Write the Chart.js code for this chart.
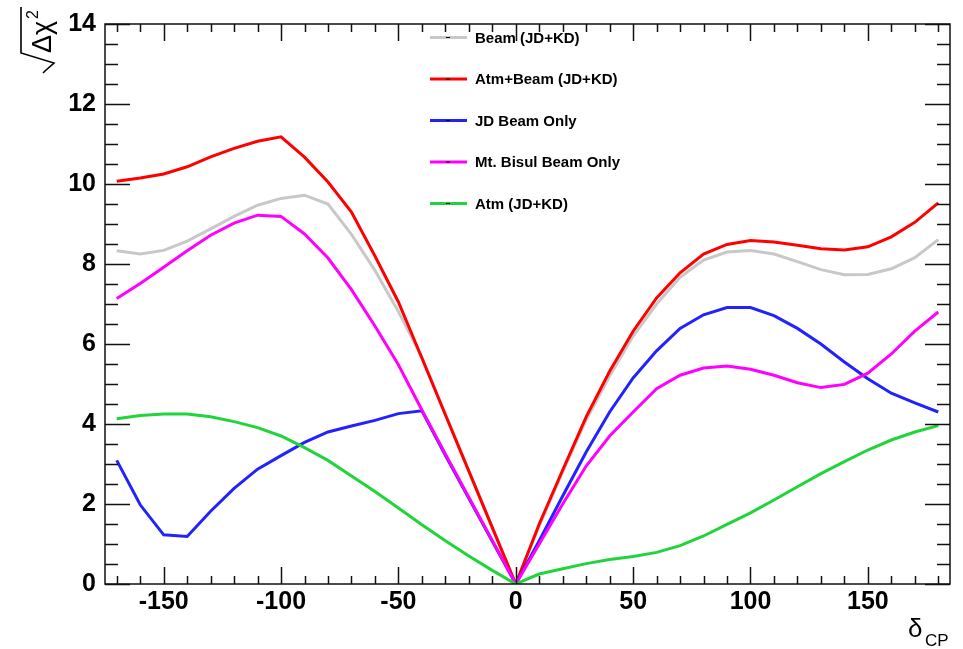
<!DOCTYPE html>
<html>
<head>
<meta charset="utf-8">
<script src="https://cdn.jsdelivr.net/npm/chart.js@4/dist/chart.umd.min.js"></script>
<style>
  html, body { margin: 0; padding: 0; background: #fff; }
  #wrap { width: 963px; height: 649px; }
</style>
</head>
<body>
<div id="wrap"><canvas id="chi"></canvas></div>
<script>
// delta_CP scan, one point every 10 degrees
const deltaCP = [-170, -160, -150, -140, -130, -120, -110, -100, -90, -80, -70, -60, -50, -40, -30, -20, -10, 0,
                 10, 20, 30, 40, 50, 60, 70, 80, 90, 100, 110, 120, 130, 140, 150, 160, 170, 180];

const beamJDKD = [8.33, 8.25, 8.34, 8.57, 8.88, 9.19, 9.47, 9.64, 9.72, 9.50, 8.74, 7.84, 6.81, 5.67, 4.25, 2.83, 1.42, 0,
                  1.45, 2.80, 4.10, 5.20, 6.20, 7.00, 7.67, 8.10, 8.30, 8.34, 8.25, 8.06, 7.86, 7.73, 7.74, 7.88, 8.16, 8.61];
const atmBeamJDKD = [10.07, 10.15, 10.25, 10.43, 10.68, 10.89, 11.07, 11.18, 10.67, 10.05, 9.30, 8.20, 7.05, 5.65, 4.23, 2.82, 1.41, 0,
                     1.50, 2.85, 4.18, 5.32, 6.32, 7.15, 7.78, 8.25, 8.49, 8.59, 8.55, 8.47, 8.38, 8.35, 8.43, 8.68, 9.04, 9.53];
const jdBeamOnly = [3.09, 1.98, 1.23, 1.19, 1.82, 2.39, 2.87, 3.21, 3.54, 3.80, 3.95, 4.09, 4.26, 4.33, 3.22, 2.14, 1.07, 0,
                    1.08, 2.20, 3.30, 4.30, 5.15, 5.83, 6.39, 6.73, 6.91, 6.91, 6.71, 6.39, 6.00, 5.55, 5.13, 4.77, 4.53, 4.30];
const bisulBeamOnly = [7.14, 7.51, 7.92, 8.33, 8.72, 9.02, 9.22, 9.19, 8.75, 8.15, 7.36, 6.45, 5.48, 4.35, 3.25, 2.17, 1.09, 0,
                       1.00, 2.00, 2.95, 3.70, 4.30, 4.88, 5.22, 5.40, 5.45, 5.37, 5.22, 5.03, 4.91, 4.99, 5.27, 5.75, 6.32, 6.80];
const atmJDKD = [4.13, 4.21, 4.25, 4.25, 4.18, 4.06, 3.91, 3.70, 3.41, 3.09, 2.70, 2.31, 1.90, 1.48, 1.08, 0.70, 0.34, 0,
                 0.25, 0.38, 0.51, 0.61, 0.69, 0.79, 0.96, 1.20, 1.49, 1.78, 2.10, 2.43, 2.76, 3.06, 3.35, 3.60, 3.80, 3.96];

const seriesLabels = ['Beam (JD+KD)', 'Atm+Beam (JD+KD)', 'JD Beam Only', 'Mt. Bisul Beam Only', 'Atm (JD+KD)'];
const seriesValues = [beamJDKD, atmBeamJDKD, jdBeamOnly, bisulBeamOnly, atmJDKD];
const seriesColors = ['#c8c8c8', '#ff0000', '#2222ff', '#ff00ff', '#22d43c'];

const xTicks = [-150, -100, -50, 0, 50, 100, 150];
const yTicks = [0, 2, 4, 6, 8, 10, 12, 14];

const FONT = '"Liberation Sans", Arial, Helvetica, sans-serif';

const datasets = seriesValues.map((vals, i) => ({
  label: seriesLabels[i],
  data: vals.map((v, j) => ({ x: deltaCP[j], y: v })),
  borderColor: seriesColors[i],
  backgroundColor: seriesColors[i],
  borderWidth: 3,
  pointRadius: 0,
  tension: 0,
  fill: false,
  order: seriesValues.length - i   // later series drawn on top
}));

// ROOT-like frame: box, inward ticks on all sides, axis titles, in-pad legend
const rootFrame = {
  id: 'rootFrame',
  afterDraw(chart) {
    const ctx = chart.ctx;
    const a = chart.chartArea;
    const xs = chart.scales.x, ys = chart.scales.y;
    ctx.save();
    ctx.strokeStyle = '#111';
    ctx.lineWidth = 1.5;
    ctx.strokeRect(a.left, a.top, a.right - a.left, a.bottom - a.top);

    ctx.beginPath();
    for (let v = -170; v <= 180; v += 10) {
      const px = Math.round(xs.getPixelForValue(v)) + 0.5;
      const len = v % 50 === 0 ? 17 : 8;
      ctx.moveTo(px, a.bottom); ctx.lineTo(px, a.bottom - len);
      ctx.moveTo(px, a.top); ctx.lineTo(px, a.top + len);
    }
    for (let v = 0; v <= 14; v += 0.5) {
      const py = Math.round(ys.getPixelForValue(v)) + 0.5;
      const len = v % 2 === 0 ? 25 : 13;
      ctx.moveTo(a.left, py); ctx.lineTo(a.left + len, py);
      ctx.moveTo(a.right, py); ctx.lineTo(a.right - len, py);
    }
    ctx.stroke();

    // legend
    ctx.textBaseline = 'middle';
    ctx.textAlign = 'left';
    ctx.font = 'bold 15px ' + FONT;
    chart.data.datasets.forEach((ds, i) => {
      const y = 37.5 + i * 41.5;
      ctx.strokeStyle = ds.borderColor;
      ctx.lineWidth = 3;
      ctx.beginPath(); ctx.moveTo(430, y); ctx.lineTo(467, y); ctx.stroke();
      ctx.strokeStyle = '#000';
      ctx.lineWidth = 1;
      ctx.beginPath(); ctx.moveTo(446, y); ctx.lineTo(450, y); ctx.stroke();
      ctx.fillStyle = '#000';
      ctx.fillText(ds.label, 475, y + 1);
    });

    // x title: delta_CP
    ctx.fillStyle = '#000';
    ctx.textBaseline = 'alphabetic';
    ctx.font = '26px ' + FONT;
    ctx.fillText('δ', 908, 637);
    ctx.font = '17px ' + FONT;
    ctx.fillText('CP', 925, 646);

    // y title: sqrt(delta chi^2), rotated
    ctx.translate(51, 76);
    ctx.rotate(-Math.PI / 2);
    ctx.strokeStyle = '#000';
    ctx.lineWidth = 1.6;
    ctx.beginPath();
    ctx.moveTo(3, -8); ctx.lineTo(5, -6); ctx.lineTo(13, 3); ctx.lineTo(23, -30); ctx.lineTo(69, -30);
    ctx.stroke();
    ctx.font = '27px ' + FONT;
    ctx.fillText('Δχ', 23, 0);
    ctx.font = '16px ' + FONT;
    ctx.fillText('2', 57, -13);
    ctx.restore();
  }
};

new Chart(document.getElementById('chi'), {
  type: 'line',
  data: { datasets },
  options: {
    responsive: true,
    maintainAspectRatio: false,
    animation: false,
    devicePixelRatio: 1,
    layout: { padding: { top: 14, right: 13, left: 0, bottom: 0 } },
    plugins: { legend: { display: false }, tooltip: { enabled: false } },
    scales: {
      x: {
        type: 'linear',
        min: -175,
        max: 185,
        afterBuildTicks: s => { s.ticks = xTicks.map(v => ({ value: v })); },
        afterFit: s => { s.height = 65; },
        grid: { display: false, drawTicks: false },
        border: { display: false },
        ticks: { color: '#000', font: { family: FONT, size: 25, weight: 'bold' }, padding: 3, maxRotation: 0, autoSkip: false }
      },
      y: {
        type: 'linear',
        min: 0,
        max: 14,
        afterBuildTicks: s => { s.ticks = yTicks.map(v => ({ value: v })); },
        afterFit: s => { s.width = 105; },
        grid: { display: false, drawTicks: false },
        border: { display: false },
        ticks: { color: '#000', font: { family: FONT, size: 25, weight: 'bold' }, padding: 9 }
      }
    }
  },
  plugins: [rootFrame]
});
</script>
</body>
</html>
